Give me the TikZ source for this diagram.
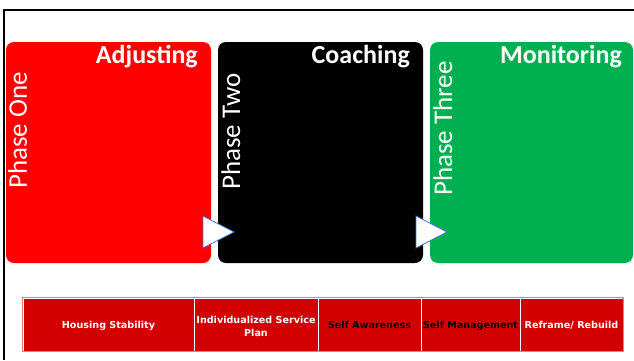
\documentclass[tikz,border=0pt]{standalone}
\usepackage{fontspec}
\newfontfamily\carlito{Carlito}
\newfontfamily\dejavu{DejaVu Sans}
\definecolor{phasered}{RGB}{255,0,0}
\definecolor{phasegreen}{RGB}{0,176,80}
\definecolor{cellred}{RGB}{210,0,0}
\definecolor{celledge}{RGB}{240,120,120}
\definecolor{tribord}{RGB}{68,114,196}
\begin{document}
\begin{tikzpicture}[x=1pt,y=-1pt,
  phasebox/.style={draw=none,rounded corners=8pt},
  phasetitle/.style={anchor=base east,inner sep=0pt,text=white,font=\carlito\bfseries\fontsize{26}{30}\selectfont},
  phaselabel/.style={anchor=base west,rotate=90,inner sep=0pt,text=white,font=\carlito\fontsize{27}{30}\selectfont},
  pointer/.style={draw=tribord,fill=white,line width=0.8pt,line join=miter},
  cell/.style={draw=white,line width=0.8pt,fill=cellred,inner sep=0pt,minimum height=53pt},
  celltext/.style={inner sep=0pt,align=center,anchor=base,font=\dejavu\bfseries\fontsize{9.6}{13.5}\selectfont},
  frameline/.style={line width=2pt,black}]
\useasboundingbox (0,0) rectangle (634,360);

% outer frame (top and left edges)
\draw[frameline] (3,10) -- (634,10);
\draw[frameline] (4,10) -- (4,360);

% the three phase panels
\fill[phasebox,fill=phasered]   (6,42)   rectangle (211,263);
\fill[phasebox,fill=black]      (218,42) rectangle (423,263);
\fill[phasebox,fill=phasegreen] (430,42) rectangle (633,263);

\node[phasetitle] (t1) at (198,63) {Adjusting};
\node[phasetitle] (t2) at (410,63) {Coaching};
\node[phasetitle] (t3) at (622,63) {Monitoring};

\node[phaselabel] (p1) at (27,189)  {Phase One};
\node[phaselabel] (p2) at (240,190) {Phase Two};
\node[phaselabel] (p3) at (452,196) {Phase Three};

% arrows between panels
\draw[pointer] (203,216) -- (234,232) -- (203,248) -- cycle;
\draw[pointer] (416,216) -- (447,232) -- (416,248) -- cycle;

% steps table: cells
\node[cell,minimum width=171pt] (c1) at (108.5,324.5) {};
\node[cell,minimum width=124pt] (c2) at (256,324.5)   {};
\node[cell,minimum width=103pt] (c3) at (369.5,324.5) {};
\node[cell,minimum width=99pt]  (c4) at (470.5,324.5) {};
\node[cell,minimum width=103pt] (c5) at (571.5,324.5) {};
\draw[celledge,line width=0.8pt] (c1.north west) rectangle (c5.south east);

% steps table: labels (placed by baseline)
\node[celltext,text=white] (l1)  at ([yshift=-4pt]c1.center)    {Housing Stability};
\node[celltext,text=white] (l2a) at ([yshift=1.5pt]c2.center)   {Individualized Service};
\node[celltext,text=white] (l2b) at ([yshift=-11.5pt]c2.center) {Plan};
\node[celltext,text=black] (l3)  at ([yshift=-4pt]c3.center)    {Self Awareness};
\node[celltext,text=black] (l4)  at ([yshift=-4pt]c4.center)    {Self Management};
\node[celltext,text=white] (l5)  at ([yshift=-4pt]c5.center)    {Reframe/ Rebuild};
\end{tikzpicture}
\end{document}
